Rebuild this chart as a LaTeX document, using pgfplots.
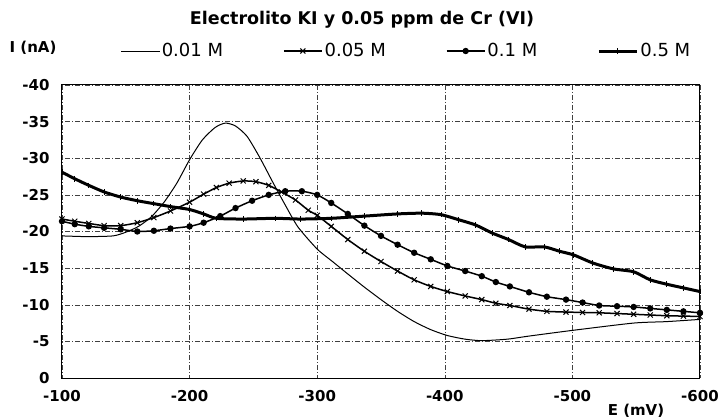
\documentclass[border=0pt]{standalone}
\usepackage{fontspec}
\setmainfont{DejaVu Sans}
\usepackage{pgfplots}
\pgfplotsset{compat=1.18}
\pgfplotstableread{
E I
-100 -19.4
-120 -19.3
-140 -19.4
-150 -19.9
-160 -20.7
-170 -22.0
-180 -24.0
-190 -26.6
-200 -29.8
-210 -32.5
-220 -34.2
-228 -34.8
-236 -34.4
-245 -33.0
-255 -30.1
-265 -26.8
-275 -23.6
-285 -20.6
-300 -17.6
-312 -15.9
-324 -14.2
-337 -12.4
-350 -10.7
-363 -9.1
-376 -7.7
-389 -6.6
-402 -5.8
-416 -5.3
-429 -5.1
-449 -5.3
-465 -5.7
-500 -6.5
-548 -7.5
-574 -7.7
-600 -8.0
}\tA
\pgfplotstableread{
E I
-100 -21.7
-110 -21.4
-121 -21.1
-133 -20.8
-146 -20.8
-159 -21.2
-172 -21.9
-185 -22.8
-200 -24.0
-211 -25.1
-221 -26.0
-231 -26.6
-242 -26.9
-252 -26.8
-262 -26.3
-272 -25.4
-283 -24.3
-293 -22.9
-300 -22.2
-311 -20.7
-324 -18.9
-337 -17.3
-350 -15.9
-363 -14.6
-376 -13.4
-389 -12.5
-402 -11.8
-416 -11.2
-429 -10.7
-440 -10.2
-451 -9.9
-466 -9.4
-480 -9.1
-495 -9.0
-508 -8.95
-521 -8.9
-535 -8.8
-548 -8.7
-561 -8.6
-574 -8.5
-587 -8.45
-600 -8.4
}\tB
\pgfplotstableread{
E I
-100 -21.4
-110 -21.0
-121 -20.7
-133 -20.5
-146 -20.3
-159 -20.0
-172 -20.1
-185 -20.4
-200 -20.7
-211 -21.2
-224 -22.1
-236 -23.2
-249 -24.2
-262 -25.0
-275 -25.5
-288 -25.5
-300 -25.0
-311 -23.9
-324 -22.4
-337 -20.8
-350 -19.4
-363 -18.2
-376 -17.1
-389 -16.2
-402 -15.3
-416 -14.6
-429 -13.9
-440 -13.1
-451 -12.5
-466 -11.7
-480 -11.1
-495 -10.7
-508 -10.3
-521 -9.9
-535 -9.8
-548 -9.7
-561 -9.5
-574 -9.3
-587 -9.1
-600 -8.9
}\tC
\pgfplotstableread{
E I
-100 -28.1
-110 -27.2
-121 -26.3
-133 -25.4
-146 -24.7
-159 -24.2
-172 -23.8
-185 -23.4
-200 -23.0
-211 -22.4
-221 -21.8
-242 -21.7
-267 -21.8
-287 -21.7
-311 -21.8
-337 -22.1
-363 -22.4
-382 -22.5
-397 -22.3
-411 -21.6
-424 -20.9
-437 -19.8
-450 -18.9
-463 -17.9
-478 -17.9
-490 -17.3
-501 -16.8
-516 -15.7
-532 -14.9
-548 -14.5
-561 -13.4
-574 -12.8
-587 -12.3
-600 -11.8
}\tD
\begin{document}
\begin{tikzpicture}[x=1pt,y=1pt]
\path[use as bounding box] (0,0) rectangle (721,420);
\begin{axis}[
  at={(62pt,42pt)}, anchor=south west,
  scale only axis, width=638pt, height=293pt,
  xmin=-600, xmax=-100, ymin=-40, ymax=0,
  x dir=reverse, y dir=reverse,
  xtick={-100,-200,-300,-400,-500,-600},
  ytick={-40,-35,-30,-25,-20,-15,-10,-5,0},
  /pgf/number format/assume math mode=true,
  ticklabel style={font=\fontsize{15}{18}\selectfont\bfseries},
  xticklabel style={yshift=-9pt},
  yticklabel style={xshift=-9pt},
  tick style={draw=none},
  grid=major,
  major grid style={black!75, line width=0.5pt, dash pattern=on 5pt off 2pt on 1pt off 2pt},
  axis line style={black, line width=1pt},
  legend columns=4,
  legend style={at={(0.54,1.116)}, anchor=center, draw=none, fill=none,
    font=\fontsize{18}{21}\selectfont,
    /tikz/every even column/.append style={column sep=58pt}},
  legend image code/.code={\draw[mark repeat=2,mark phase=2] plot coordinates {(0pt,0pt) (19pt,0pt) (38pt,0pt)};},
  clip=false,
]
\addplot[black, line width=1pt, smooth, tension=0.4] table[x=E,y=I]{\tA};
\addlegendentry{0.01 M}
\addplot[black, line width=1.5pt, smooth, tension=0.4, mark=x, mark size=3.6pt, mark options={line width=1pt}] table[x=E,y=I]{\tB};
\addlegendentry{0.05 M}
\addplot[black, line width=1.5pt, smooth, tension=0.4, mark=*, mark size=2.4pt] table[x=E,y=I]{\tC};
\addlegendentry{0.1 M}
\addplot[black, line width=3pt, smooth, tension=0.4, mark=|, mark size=2.8pt, mark options={line width=0.9pt}] table[x=E,y=I]{\tD};
\addlegendentry{0.5 M}
\end{axis}
\node[font=\fontsize{17.5}{21}\selectfont\bfseries] at (362,400) {Electrolito KI y 0.05 ppm de Cr (VI)};
\node[font=\fontsize{15}{18}\selectfont\bfseries] at (33,372) {I (nA)};
\node[font=\fontsize{15}{18}\selectfont\bfseries] at (636,9) {E (mV)};
\end{tikzpicture}
\end{document}
